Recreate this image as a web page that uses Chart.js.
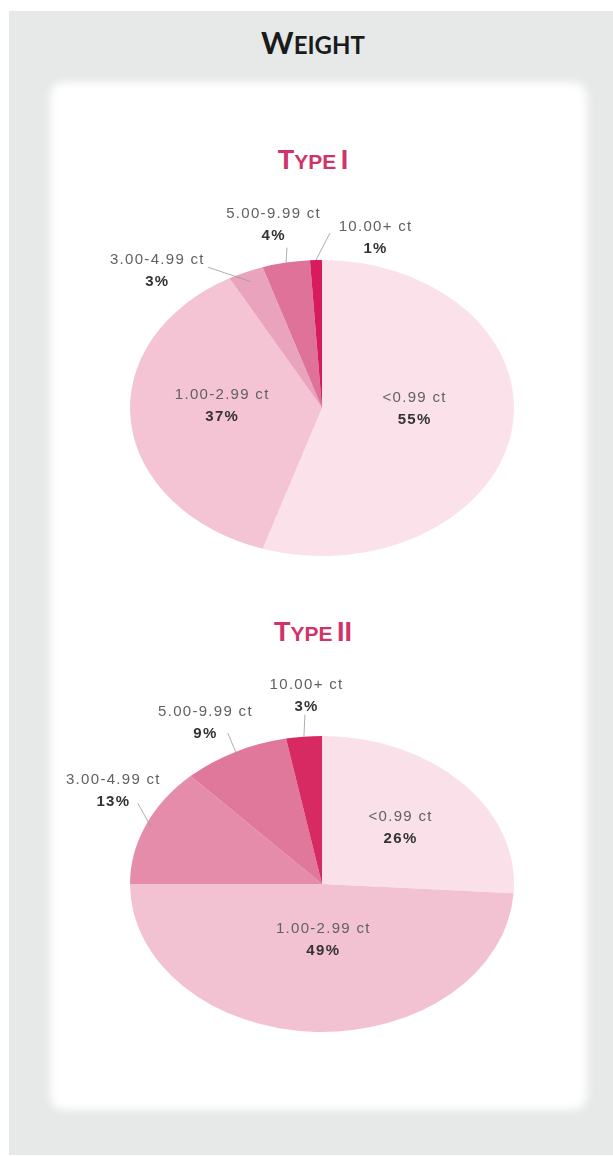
<!DOCTYPE html>
<html>
<head>
<meta charset="utf-8">
<script src="https://cdn.jsdelivr.net/npm/chart.js@4.4.1/dist/chart.umd.min.js"></script>
<style>
  body { margin: 0; width: 613px; height: 1156px; background: #fff; position: relative; overflow: hidden; }
  #panel { position: absolute; left: 9px; top: 11px; width: 604px; height: 1144px; background: #e6e9e8; }
  #card { position: absolute; left: 50px; top: 82px; width: 537px; height: 1028px; background: #fff; border-radius: 14px; filter: blur(5px); }
  .head { position: absolute; left: 0; width: 626px; text-align: center; white-space: nowrap; }
  #weight { top: 27px; font-family: Lato, sans-serif; font-weight: 700; color: #1b1b1b; line-height: 30px; }
  #weight .big { font-size: 31px; }
  #weight .sm { font-size: 24px; }
  .type { font-family: "Liberation Sans", sans-serif; font-weight: 700; color: #d0336a; line-height: 27px; }
  .type .big { font-size: 27px; }
  .type .sm { font-size: 21px; }
  #t1 { top: 147px; }
  #t2 { top: 619px; }
  canvas { position: absolute; left: 0; }
  #c1 { top: 170px; }
  #c2 { top: 640px; }
</style>
</head>
<body>
<div id="panel"></div>
<div id="card"></div>
<div class="head" id="weight"><span class="big">W</span><span class="sm">EIGHT</span></div>
<div class="head type" id="t1"><span class="big">T</span><span class="sm">YPE</span> <span class="big">I</span></div>
<div class="head type" id="t2"><span class="big">T</span><span class="sm">YPE</span> <span class="big">II</span></div>
<canvas id="c1" width="613" height="440"></canvas>
<canvas id="c2" width="613" height="440"></canvas>
<script>
// weight classes, shares in percent
const categories = ['<0.99 ct', '1.00-2.99 ct', '3.00-4.99 ct', '5.00-9.99 ct', '10.00+ ct'];
const typeI = [55, 37, 3, 4, 1];
const typeII = [26, 49, 13, 9, 3];

const colorsI = ['#fbe2ea', '#f4c4d4', '#eaa3bc', '#de7299', '#d81b5c'];
const colorsII = ['#fae0e9', '#f3c2d2', '#e58cab', '#e0789c', '#d82a62'];

// how each label sits: inside (f = fraction of radius) or outside with a leader
const placeI = [
  { f: 0.48, text: [1, -10] },
  { f: 0.52, text: [-1, -9] },
  { f0: 0.93, lead: [-38, -5], text: [-89, -1] },
  { f0: 1, lead: [1, -15], text: [-13, -38] },
  { f0: 1, lead: [14, -27], text: [59, -22] }
];
const placeII = [
  { f: 0.55, text: [1, 0] },
  { f: 0.38, text: [3, 0] },
  { f0: 0.97, lead: [-8, -22], text: [-33, -34] },
  { f0: 0.97, lead: [-7, -19], text: [-30, -29] },
  { f0: 1, lead: [1, -22], text: [2, -41] }
];

// squash the round pie into an ellipse and draw the labels
const tiltPlugin = {
  id: 'tilt',
  beforeDatasetsDraw(chart, args, opts) {
    const arc = chart.getDatasetMeta(0).data[0];
    const ctx = chart.ctx;
    ctx.save();
    ctx.translate(arc.x, arc.y);
    ctx.scale(1, opts.k);
    ctx.translate(-arc.x, -arc.y);
  },
  afterDatasetsDraw(chart) {
    chart.ctx.restore();
  },
  afterDraw(chart, args, opts) {
    const ctx = chart.ctx;
    const values = chart.data.datasets[0].data;
    chart.getDatasetMeta(0).data.forEach((arc, i) => {
      const p = opts.place[i];
      const a = (arc.startAngle + arc.endAngle) / 2;
      const r = arc.outerRadius;
      const at = f => [arc.x + Math.cos(a) * r * f, arc.y + Math.sin(a) * r * f * opts.k];
      let tx, ty;
      if (p.lead) {
        const e = at(1);
        const s = at(p.f0);
        ctx.beginPath();
        ctx.moveTo(s[0], s[1]);
        ctx.lineTo(e[0] + p.lead[0], e[1] + p.lead[1]);
        ctx.strokeStyle = '#999';
        ctx.lineWidth = 0.8;
        ctx.stroke();
        tx = e[0] + p.text[0];
        ty = e[1] + p.text[1];
      } else {
        const c = at(p.f);
        tx = c[0] + p.text[0];
        ty = c[1] + p.text[1];
      }
      ctx.save();
      ctx.letterSpacing = '1.3px';
      ctx.textAlign = 'center';
      ctx.textBaseline = 'middle';
      ctx.font = '15px "Liberation Sans", Arial, sans-serif';
      ctx.fillStyle = '#616161';
      ctx.fillText(chart.data.labels[i], tx + 0.6, ty - 11);
      ctx.font = 'bold 15px "Liberation Sans", Arial, sans-serif';
      ctx.fillStyle = '#333';
      ctx.fillText(values[i] + '%', tx + 0.6, ty + 11);
      ctx.restore();
    });
  }
};

function makePie(id, values, colors, place, pad) {
  return new Chart(document.getElementById(id).getContext('2d'), {
    type: 'pie',
    data: {
      labels: categories,
      datasets: [{ data: values, backgroundColor: colors, borderWidth: 0 }]
    },
    options: {
      responsive: false,
      animation: false,
      layout: { padding: pad },
      plugins: {
        legend: { display: false },
        tooltip: { enabled: false },
        tilt: { k: 148 / 192, place: place }
      }
    },
    plugins: [tiltPlugin]
  });
}

makePie('c1', typeI, colorsI, placeI, { left: 130, right: 99, top: 46, bottom: 10 });
makePie('c2', typeII, colorsII, placeII, { left: 130, right: 99, top: 52, bottom: 4 });
</script>
</body>
</html>
